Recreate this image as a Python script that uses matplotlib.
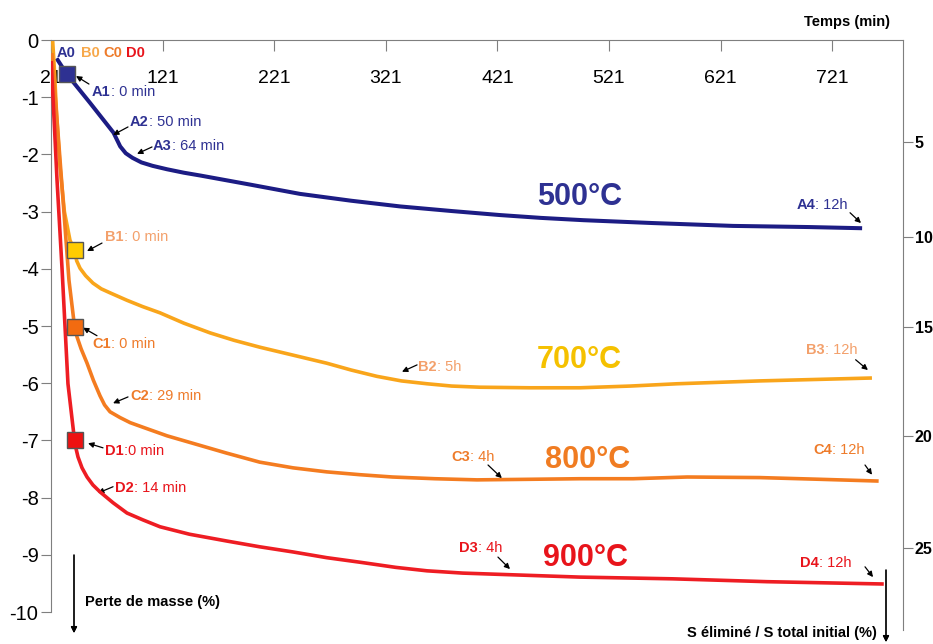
import matplotlib.pyplot as plt

plt.rcParams["font.family"] = ["Liberation Sans", "DejaVu Sans"]
plt.rcParams["axes.unicode_minus"] = False

# temps (min) et perte de masse (%)
temps_500 = [27, 35.3, 56, 77, 83, 88, 94, 102, 112, 125, 140, 155, 200, 244, 290,
             334, 380, 423, 460, 498, 560, 632, 700, 746]
masse_500 = [-0.35, -0.60, -1.1, -1.62, -1.86, -1.98, -2.06, -2.14, -2.2, -2.26,
             -2.32, -2.37, -2.53, -2.69, -2.81, -2.91, -2.99, -3.06, -3.11, -3.15,
             -3.2, -3.25, -3.27, -3.29]

temps_700 = [22.6, 24, 26, 29, 33, 38, 42.1, 44, 47, 52, 58.6, 66, 73.9, 89, 103,
             118.7, 140, 163.5, 185, 208, 238, 268, 290, 313, 335, 358, 380, 405, 450,
             495, 540, 582, 656, 755]
masse_700 = [-0.05, -0.5, -1.3, -2.2, -3.0, -3.5, -3.68, -3.86, -3.99, -4.12, -4.25,
             -4.35, -4.42, -4.55, -4.66, -4.77, -4.95, -5.12, -5.25, -5.37, -5.51,
             -5.65, -5.77, -5.88, -5.96, -6.01, -6.05, -6.07, -6.08, -6.08, -6.05,
             -6.01, -5.96, -5.91]

temps_800 = [21.9, 26.4, 31.8, 37.1, 42.1, 44.3, 48, 53.3, 59, 64.9, 69, 73.9, 82.8,
             92, 103.4, 125, 148, 178, 208, 238, 268, 298, 327, 365, 402.7, 450, 495,
             542.5, 591, 656, 710, 761]
masse_800 = [-0.26, -1.4, -2.8, -4.2, -5.01, -5.19, -5.4, -5.65, -5.95, -6.22, -6.38,
             -6.5, -6.6, -6.69, -6.77, -6.92, -7.05, -7.22, -7.38, -7.48, -7.55, -7.6,
             -7.64, -7.67, -7.69, -7.68, -7.67, -7.67, -7.64, -7.65, -7.68, -7.71]

temps_900 = [21.2, 22.8, 26.4, 30.9, 36.2, 42.1, 43.5, 45.2, 48.8, 53.3, 58.6, 64.9,
             76.6, 89.1, 103.4, 118.7, 145, 178.7, 208, 237.8, 268, 297.9, 330, 357.9,
             390, 435, 495, 578, 662.6, 765.6]
masse_900 = [-0.4, -1.0, -2.45, -4.0, -6.01, -7.0, -7.15, -7.29, -7.48, -7.64, -7.78,
             -7.9, -8.09, -8.27, -8.39, -8.51, -8.64, -8.76, -8.86, -8.95, -9.05,
             -9.13, -9.22, -9.28, -9.32, -9.35, -9.39, -9.42, -9.47, -9.51]

# points "0 min" (A1, B1, C1, D1)
debut_t = [35.3, 42.1, 42.1, 42.1]
debut_m = [-0.60, -3.68, -5.01, -7.0]

x_ticks = [21, 121, 221, 321, 421, 521, 621, 721]
y_ticks = [0, -1, -2, -3, -4, -5, -6, -7, -8, -9, -10]
s_labels = [5, 10, 15, 20, 25]
s_pos = [-1.78, -3.44, -5.02, -6.92, -8.88]

bleu = "#1C1C84"
jaune = "#F9A51B"
orange = "#F47C20"
rouge = "#EE1D23"
gris = "#7F7F7F"

# étiquettes : (nom, suite, couleur, texte, départ flèche, pointe flèche)
notes = [
    ("A1", ": 0 min", "#2E3192", (57.7, -0.91), (55.0, -0.77), (43.4, -0.63)),
    ("A2", ": 50 min", "#2E3192", (91.8, -1.43), (90.0, -1.52), (76.6, -1.66)),
    ("A3", ": 64 min", "#2E3192", (112.4, -1.85), (111.5, -1.87), (98.1, -1.99)),
    ("A4", ": 12h", "#2E3192", (689, -2.88), (737, -3.02), (746.8, -3.20)),
    ("B1", ": 0 min", "#F3A06B", (69.4, -3.44), (66.7, -3.55), (53.3, -3.69)),
    ("B2", ": 5h", "#F3A06B", (350, -5.72), (349, -5.68), (335.5, -5.80)),
    ("B3", ": 12h", "#F3A06B", (697.5, -5.42), (742, -5.59), (753, -5.77)),
    ("C1", ": 0 min", "#EE7B2A", (57.7, -5.31), (62.2, -5.17), (49.7, -5.03)),
    ("C2", ": 29 min", "#EE7B2A", (91.8, -6.22), (90, -6.24), (76.6, -6.35)),
    ("C3", ": 4h", "#EE7B2A", (380, -7.29), (412.6, -7.43), (425, -7.66)),
    ("C4", ": 12h", "#EE7B2A", (704, -7.17), (750.4, -7.43), (756.7, -7.60)),
    ("D1", ":0 min", "#E8141B", (69.4, -7.19), (67.6, -7.13), (54.2, -7.05)),
    ("D2", ": 14 min", "#E8141B", (78.3, -7.83), (76.6, -7.81), (63.1, -7.92)),
    ("D3", ": 4h", "#E8141B", (387, -8.88), (421.5, -9.04), (432.3, -9.25)),
    ("D4", ": 12h", "#E8141B", (692, -9.15), (750.4, -9.21), (757.6, -9.39)),
]


def fx(px):
    return px / 933


def fy(py):
    return 1 - py / 644


fig = plt.figure(figsize=(9.33, 6.44), dpi=100)
ax = fig.add_axes([fx(51), fy(612), fx(903) - fx(51), fy(40) - fy(612)])
ax.set_xlim(21, 21 + (903 - 51) / 1.116)
ax.set_ylim(-10, 0)

ax.plot(temps_500, masse_500, color=bleu, lw=2.9, zorder=3)
ax.plot(temps_700, masse_700, color=jaune, lw=2.6, zorder=3)
ax.plot(temps_800, masse_800, color=orange, lw=2.6, zorder=3)
ax.plot(temps_900, masse_900, color=rouge, lw=2.6, zorder=4)

couleurs_debut = ["#2E3192", "#FFCC00", "#F26B10", "#EE1111"]
for t, m, c in zip(debut_t, debut_m, couleurs_debut):
    ax.plot(t, m, marker="s", ms=12, mfc=c, mec="#555555", mew=1, zorder=5)

for nom, suite, c, pos, depart, pointe in notes:
    lbl = ax.text(pos[0], pos[1], nom, color=c, fontsize=10.5, fontweight="bold",
                  ha="left", va="center", zorder=6)
    ax.annotate(suite, xy=(1, 0.5), xycoords=lbl, color=c, fontsize=10.5,
                ha="left", va="center")
    ax.annotate("", xy=pointe, xytext=depart,
                arrowprops=dict(arrowstyle="-|>", color="black", lw=0.9,
                                mutation_scale=8, shrinkA=0, shrinkB=0))

for txt, t, c in [("A0", 26.4, "#2E3192"), ("B0", 47.9, "#F7A84A"),
                  ("C0", 67.6, "#EE7B2A"), ("D0", 88.2, "#E8141B")]:
    ax.text(t, -0.23, txt, color=c, fontsize=10.5, fontweight="bold",
            ha="left", va="center", zorder=6)

for txt, t, m, c in [("500°C", 456.5, -2.74, "#2E3192"), ("700°C", 456.5, -5.6, "#F5C100"),
                     ("800°C", 463.6, -7.34, "#F07C22"), ("900°C", 461.9, -9.06, "#E8141B")]:
    ax.text(t, m, txt, color=c, fontsize=22, fontweight="bold", ha="left", va="center")

# axe du temps en haut
ax.xaxis.set_ticks_position("top")
ax.set_xticks(x_ticks)
ax.set_xticklabels([str(v) for v in x_ticks])
ax.tick_params(axis="x", direction="in", length=8, color=gris, pad=-34, labelsize=14)
ax.set_yticks(y_ticks)
ax.set_yticklabels([str(v) for v in y_ticks])
ax.tick_params(axis="y", direction="out", length=7, color=gris, pad=2, labelsize=14.5)
ax.spines["bottom"].set_visible(False)
ax.spines["right"].set_visible(False)
ax.spines["top"].set_color(gris)
ax.spines["left"].set_color(gris)

# axe S éliminé à droite
ax2 = ax.twinx()
ax2.set_ylim(-10, 0)
ax2.set_yticks(s_pos)
ax2.set_yticklabels([str(v) for v in s_labels])
ax2.tick_params(axis="y", direction="out", length=7, color=gris, pad=1.5, labelsize=11.5)
for lbl in ax2.get_yticklabels():
    lbl.set_fontweight("bold")
for s in ["top", "bottom", "left"]:
    ax2.spines[s].set_visible(False)
ax2.spines["right"].set_color(gris)
ax2.spines["right"].set_bounds(-10.31, 0)

fig.text(fx(890), fy(22), "Temps (min)", ha="right", va="center",
         fontsize=10.5, fontweight="bold")
fig.text(fx(85), fy(602), "Perte de masse (%)", ha="left", va="center",
         fontsize=10.5, fontweight="bold")
fig.text(fx(877), fy(633), "S éliminé / S total initial (%)", ha="right", va="center",
         fontsize=10.5, fontweight="bold")
fleche = dict(arrowstyle="-|>", color="black", lw=0.9, mutation_scale=9,
              shrinkA=0, shrinkB=0)
fig.add_artist(plt.annotate("", xy=(fx(74), fy(633)), xytext=(fx(74), fy(555)),
                            xycoords="figure fraction", arrowprops=fleche))
fig.add_artist(plt.annotate("", xy=(fx(886), fy(642)), xytext=(fx(886), fy(570)),
                            xycoords="figure fraction", arrowprops=fleche))

fig.savefig("out.png", dpi=100)
